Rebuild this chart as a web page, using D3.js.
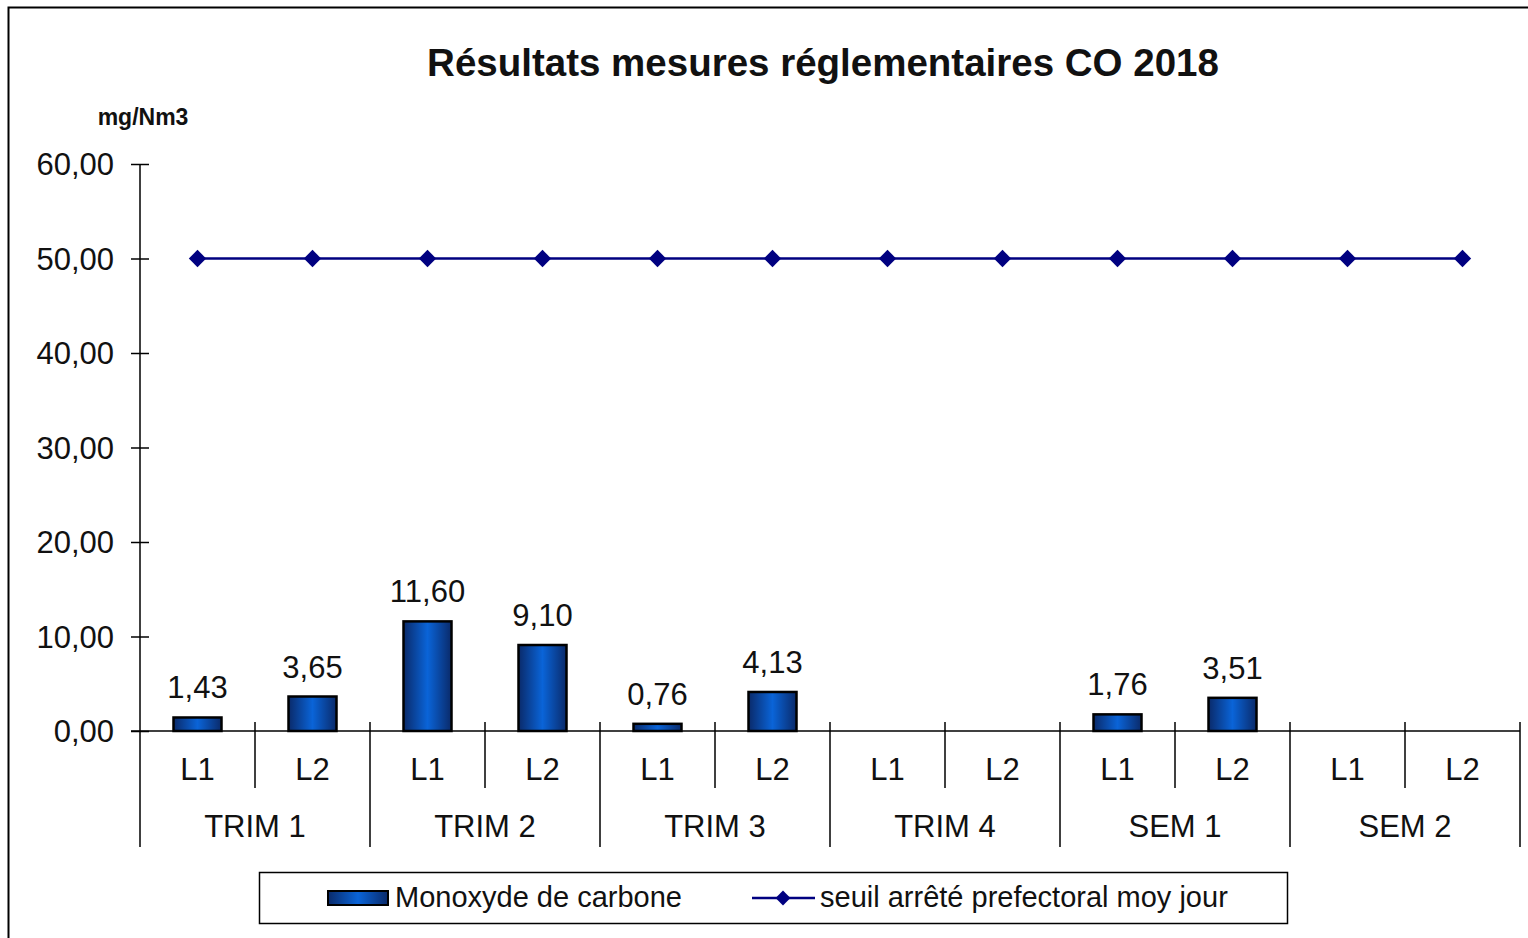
<!DOCTYPE html>
<html lang="fr">
<head>
<meta charset="utf-8">
<title>Résultats mesures réglementaires CO 2018</title>
<script src="https://cdn.jsdelivr.net/npm/d3@7/dist/d3.min.js"></script>
<style>
  body { margin: 0; background: #fff; }
  text { font-family: "Liberation Sans", Arial, sans-serif; fill: #111; }
</style>
</head>
<body>
<script>
// data
var groups = ["TRIM 1", "TRIM 2", "TRIM 3", "TRIM 4", "SEM 1", "SEM 2"];
var lines = ["L1", "L2"];
var coValues = [1.43, 3.65, 11.60, 9.10, 0.76, 4.13, null, null, 1.76, 3.51, null, null];
var seuil = [50, 50, 50, 50, 50, 50, 50, 50, 50, 50, 50, 50];
var yTicks = [0, 10, 20, 30, 40, 50, 60];

var W = 1528, H = 938;
var mLeft = 140, mRight = 1520, mTop = 164, mBottom = 731;
var fs = 31;

// flatten group/line into category keys
var cats = [];
groups.forEach(function (g) {
  lines.forEach(function (l) { cats.push({ group: g, line: l, key: g + "|" + l }); });
});

var svg = d3.select("body").append("svg")
  .attr("width", W).attr("height", H);

var defs = svg.append("defs");
var grad = defs.append("linearGradient").attr("id", "barGrad")
  .attr("x1", "0%").attr("x2", "100%").attr("y1", "0%").attr("y2", "0%");
grad.append("stop").attr("offset", "0%").attr("stop-color", "#0a2a6a");
grad.append("stop").attr("offset", "50%").attr("stop-color", "#0a64d8");
grad.append("stop").attr("offset", "100%").attr("stop-color", "#0a2a6a");

// outer frame
svg.append("rect")
  .attr("x", 8.5).attr("y", 7.5).attr("width", W).attr("height", H)
  .attr("fill", "none").attr("stroke", "#000").attr("stroke-width", 2);

var x = d3.scaleBand().domain(cats.map(function (d) { return d.key; }))
  .range([mLeft, mRight]).paddingInner(0).paddingOuter(0);
var xg = d3.scaleBand().domain(groups).range([mLeft, mRight]);
var y = d3.scaleLinear().domain([0, 60]).range([mBottom, mTop]);

var fmt = function (v) { return d3.format(".2f")(v).replace(".", ","); };

// title
svg.append("text").attr("x", 823).attr("y", 76).attr("text-anchor", "middle")
  .attr("font-size", 38.5).attr("font-weight", "bold").text("Résultats mesures réglementaires CO 2018");
svg.append("text").attr("x", 143).attr("y", 125).attr("text-anchor", "middle")
  .attr("font-size", 23).attr("font-weight", "bold").text("mg/Nm3");

// y axis
var yAxis = d3.axisLeft(y).tickValues(yTicks).tickSizeInner(9).tickSizeOuter(0).tickPadding(17)
  .tickFormat(fmt);
var gy = svg.append("g").attr("transform", "translate(" + mLeft + ",0)").call(yAxis);
gy.select(".domain").remove();
gy.selectAll(".tick line").attr("x1", 9).attr("x2", -9).attr("stroke", "#000").attr("stroke-width", 1.5);
gy.selectAll(".tick text").attr("font-size", fs).attr("font-family", "Liberation Sans, Arial, sans-serif")
  .attr("fill", "#111").attr("dy", "0.35em");
svg.append("line").attr("x1", mLeft).attr("x2", mLeft).attr("y1", mTop).attr("y2", 847)
  .attr("stroke", "#000").attr("stroke-width", 1.5);

// x axis line
svg.append("line").attr("x1", mLeft - 9).attr("x2", mRight).attr("y1", mBottom).attr("y2", mBottom)
  .attr("stroke", "#000").attr("stroke-width", 1.5);

// category separators
cats.forEach(function (d, i) {
  var xx = x(d.key) + x.bandwidth();
  var isGroupEnd = (i % 2 === 1);
  svg.append("line").attr("x1", xx).attr("x2", xx)
    .attr("y1", mBottom - 9).attr("y2", isGroupEnd ? 847 : 788)
    .attr("stroke", "#000").attr("stroke-width", 1.5);
});

// category labels
svg.selectAll(".lab").data(cats).enter().append("text")
  .attr("x", function (d) { return x(d.key) + x.bandwidth() / 2; })
  .attr("y", 780).attr("text-anchor", "middle").attr("font-size", fs)
  .text(function (d) { return d.line; });
svg.selectAll(".glab").data(groups).enter().append("text")
  .attr("x", function (d) { return xg(d) + xg.bandwidth() / 2; })
  .attr("y", 837).attr("text-anchor", "middle").attr("font-size", fs)
  .text(function (d) { return d; });

// bars
var barW = 48;
var barData = cats.map(function (d, i) { return { key: d.key, v: coValues[i] }; })
  .filter(function (d) { return d.v !== null; });
svg.selectAll(".bar").data(barData).enter().append("rect")
  .attr("x", function (d) { return x(d.key) + x.bandwidth() / 2 - barW / 2; })
  .attr("y", function (d) { return y(d.v); })
  .attr("width", barW)
  .attr("height", function (d) { return y(0) - y(d.v); })
  .attr("fill", "url(#barGrad)").attr("stroke", "#000").attr("stroke-width", 2.5);
svg.selectAll(".val").data(barData).enter().append("text")
  .attr("x", function (d) { return x(d.key) + x.bandwidth() / 2; })
  .attr("y", function (d) { return y(d.v) - 19; })
  .attr("text-anchor", "middle").attr("font-size", fs)
  .text(function (d) { return fmt(d.v); });

// threshold line
var lineData = cats.map(function (d, i) { return { key: d.key, v: seuil[i] }; });
var line = d3.line()
  .x(function (d) { return x(d.key) + x.bandwidth() / 2; })
  .y(function (d) { return y(d.v); });
svg.append("path").datum(lineData).attr("d", line)
  .attr("fill", "none").attr("stroke", "#000080").attr("stroke-width", 2.5);
var diamond = d3.symbol().type(d3.symbolSquare).size(150);
svg.selectAll(".pt").data(lineData).enter().append("path")
  .attr("d", diamond)
  .attr("transform", function (d) {
    return "translate(" + (x(d.key) + x.bandwidth() / 2) + "," + y(d.v) + ") rotate(45)";
  })
  .attr("fill", "#000080");

// legend
var lg = svg.append("g");
lg.append("rect").attr("x", 259.5).attr("y", 872.5).attr("width", 1028).attr("height", 51)
  .attr("fill", "#fff").attr("stroke", "#000").attr("stroke-width", 1.5);
lg.append("rect").attr("x", 328).attr("y", 891).attr("width", 60).attr("height", 14)
  .attr("fill", "url(#barGrad)").attr("stroke", "#000").attr("stroke-width", 2);
lg.append("text").attr("x", 395).attr("y", 907).attr("font-size", 29).text("Monoxyde de carbone");
lg.append("line").attr("x1", 752).attr("x2", 815).attr("y1", 898).attr("y2", 898)
  .attr("stroke", "#000080").attr("stroke-width", 2.5);
lg.append("path").attr("d", d3.symbol().type(d3.symbolSquare).size(110))
  .attr("transform", "translate(783,898) rotate(45)").attr("fill", "#000080");
lg.append("text").attr("x", 820).attr("y", 907).attr("font-size", 29).text("seuil arrêté prefectoral moy jour");
</script>
</body>
</html>
